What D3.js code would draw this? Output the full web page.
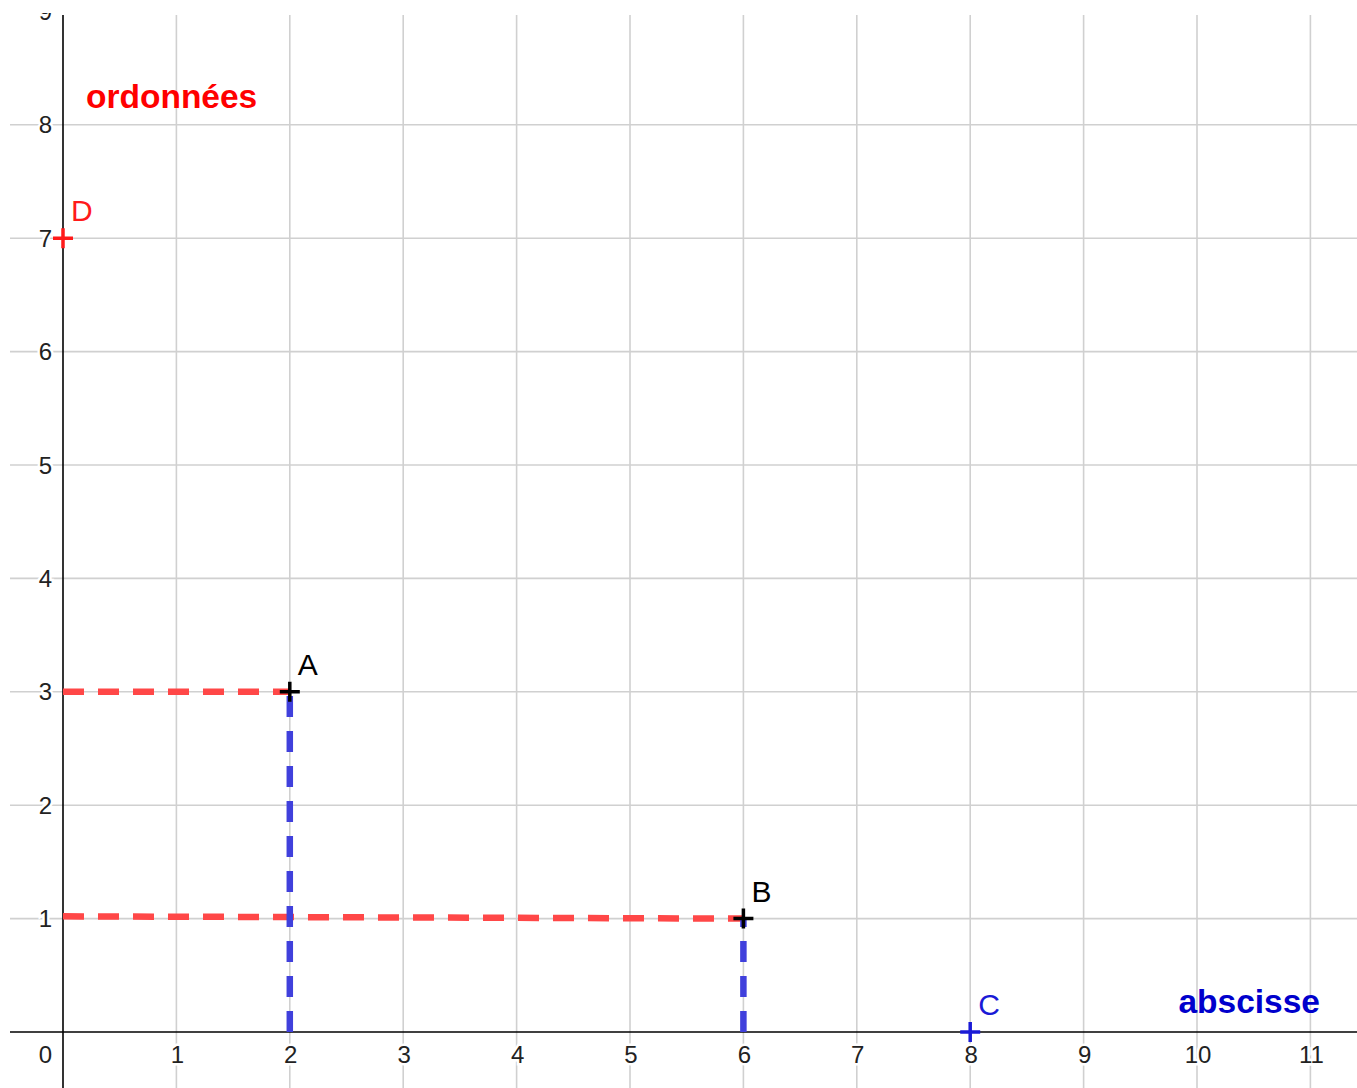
<!DOCTYPE html>
<html>
<head>
<meta charset="utf-8">
<script src="https://cdn.jsdelivr.net/npm/d3@7"></script>
<style>
    html, body { margin: 0; padding: 0; background: #fff; }
    svg { display: block; }
</style>
</head>
<body>
<div id="canvas"><svg width="1357" height="1088"></svg></div>
<script>
// repère : graduations et points
const xTicks = [1, 2, 3, 4, 5, 6, 7, 8, 9, 10, 11];
const yTicks = [1, 2, 3, 4, 5, 6, 7, 8, 9];

const pointNames = ["A", "B", "C", "D"];
const pointX = [2, 6, 8, 0];
const pointY = [3, 1, 0, 7];
const pointColors = ["#000000", "#000000", "#1a1ad6", "#ff1a1a"];

// pointillés : rouge vers l'axe des ordonnées, bleu vers l'axe des abscisses
const redFrom = [[0, 3], [0, 1.02]];
const redTo = [[2, 3], [6, 1]];
const blueFrom = [[2, 0], [6, 0]];
const blueTo = [[2, 3], [6, 1]];

const svg = d3.select("#canvas").select("svg");
const width = +svg.attr("width");
const height = +svg.attr("height");

const unit = 113.4;
const x = d3.scaleLinear().domain([0, 11]).range([63, 63 + 11 * unit]);
const y = d3.scaleLinear().domain([0, 9]).range([1032, 1032 - 9 * unit]);

const gridTop = 15, gridLeft = 10;

svg.append("defs").append("clipPath").attr("id", "clip")
    .append("rect").attr("x", 0).attr("y", 13).attr("width", width).attr("height", height - 13);

const root = svg.append("g").attr("clip-path", "url(#clip)");

// grille
const grid = root.append("g").attr("stroke", "#d0d0d0").attr("stroke-width", 1.6);
grid.selectAll("line.v").data(xTicks).join("line")
    .attr("class", "v")
    .attr("x1", d => x(d)).attr("x2", d => x(d))
    .attr("y1", gridTop).attr("y2", height);
grid.selectAll("line.h").data(yTicks.filter(d => y(d) > gridTop)).join("line")
    .attr("class", "h")
    .attr("x1", gridLeft).attr("x2", width)
    .attr("y1", d => y(d)).attr("y2", d => y(d));

// axes
root.append("line")
    .attr("x1", gridLeft).attr("x2", width)
    .attr("y1", y(0)).attr("y2", y(0))
    .attr("stroke", "#000").attr("stroke-width", 1.6);
root.append("line")
    .attr("x1", x(0)).attr("x2", x(0))
    .attr("y1", gridTop).attr("y2", height)
    .attr("stroke", "#000").attr("stroke-width", 1.6);

// graduations (fond blanc comme geogebra)
const labelStyle = sel => sel
    .attr("font-family", "Liberation Sans, Arial, sans-serif")
    .attr("font-size", 24)
    .attr("fill", "#222")
    .attr("stroke", "#fff")
    .attr("stroke-width", 5)
    .attr("paint-order", "stroke");

root.append("g").selectAll("text").data(xTicks).join("text")
    .call(labelStyle)
    .attr("x", d => x(d) + 1)
    .attr("y", y(0) + 31)
    .attr("text-anchor", "middle")
    .text(d => d);

root.append("g").selectAll("text").data(yTicks).join("text")
    .call(labelStyle)
    .attr("x", x(0) - 11)
    .attr("y", d => y(d) + 8.5)
    .attr("text-anchor", "end")
    .text(d => d);

root.append("text")
    .call(labelStyle)
    .attr("x", x(0) - 11)
    .attr("y", y(0) + 31)
    .attr("text-anchor", "end")
    .text("0");

// pointillés
const dashes = root.append("g").attr("fill", "none").attr("stroke-width", 6.5)
    .attr("stroke-dasharray", "21,14");
dashes.selectAll("line.red").data(redFrom).join("line")
    .attr("class", "red")
    .attr("x1", d => x(d[0])).attr("y1", d => y(d[1]))
    .attr("x2", (d, i) => x(redTo[i][0])).attr("y2", (d, i) => y(redTo[i][1]))
    .attr("stroke", "#ff4747");
dashes.selectAll("line.blue").data(blueFrom).join("line")
    .attr("class", "blue")
    .attr("x1", d => x(d[0])).attr("y1", d => y(d[1]))
    .attr("x2", (d, i) => x(blueTo[i][0])).attr("y2", (d, i) => y(blueTo[i][1]))
    .attr("stroke", "#4040dc");

// points en croix
const points = root.append("g").selectAll("g").data(pointNames).join("g")
    .attr("transform", (d, i) => `translate(${x(pointX[i])},${y(pointY[i])})`);
points.append("path")
    .attr("d", "M-10,0H10M0,-10V10")
    .attr("stroke", (d, i) => pointColors[i])
    .attr("stroke-width", 3.5);
points.append("text")
    .attr("x", 8)
    .attr("y", -17)
    .attr("font-family", "Liberation Sans, Arial, sans-serif")
    .attr("font-size", 30)
    .attr("fill", (d, i) => pointColors[i])
    .text(d => d);

// titres des axes
root.append("text")
    .attr("x", 86).attr("y", 108)
    .attr("font-family", "Liberation Sans, Arial, sans-serif")
    .attr("font-size", 33.5).attr("font-weight", "bold")
    .attr("fill", "#ff0000")
    .text("ordonnées");
root.append("text")
    .attr("x", 1320).attr("y", 1013)
    .attr("text-anchor", "end")
    .attr("font-family", "Liberation Sans, Arial, sans-serif")
    .attr("font-size", 33.5).attr("font-weight", "bold")
    .attr("fill", "#0000cc")
    .text("abscisse");
</script>
</body>
</html>
